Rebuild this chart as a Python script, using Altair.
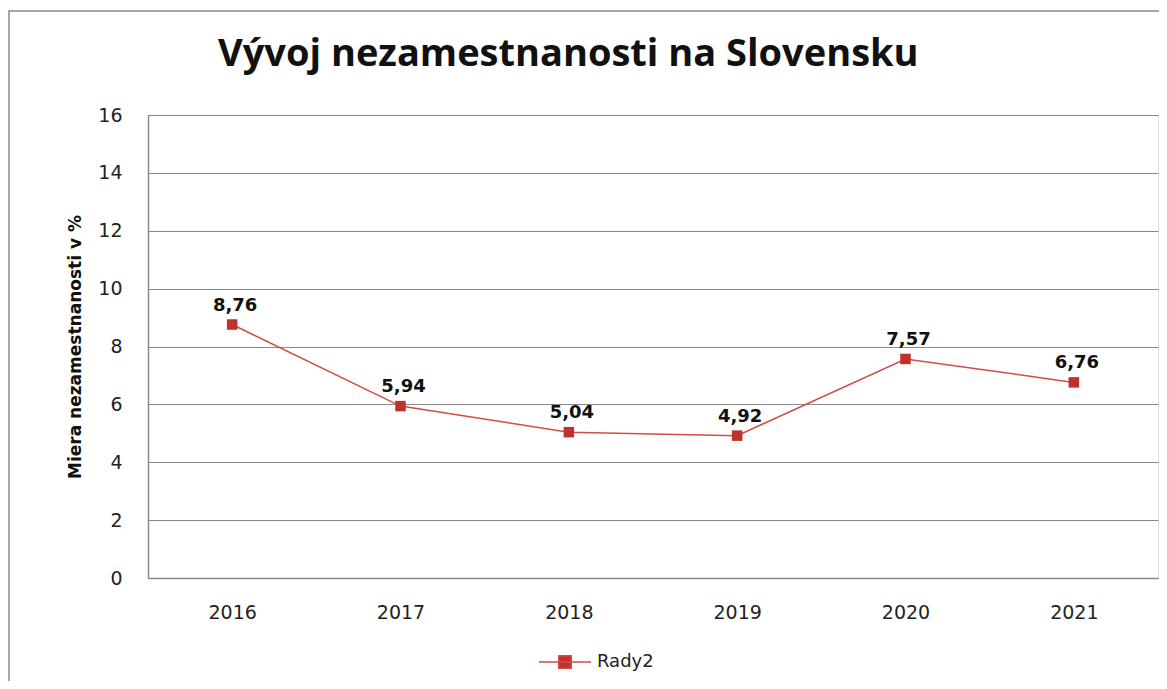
import altair as alt
import pandas as pd

# ---- data ----
years = ["2016", "2017", "2018", "2019", "2020", "2021"]
rates = [8.76, 5.94, 5.04, 4.92, 7.57, 6.76]
series_name = "Rady2"
y_ticks = [0, 2, 4, 6, 8, 10, 12, 14, 16]
title_text = "Vývoj nezamestnanosti na Slovensku"
y_title = "Miera nezamestnanosti v %"

df = pd.DataFrame({"rok": years, "miera": rates, "rad": [series_name] * len(years)})
frame_df = pd.DataFrame({"k": [0]})

RED_LINE = "#d24b48"
RED_PT = "#c0302c"
GRID = "#8a8a8a"
TXT = "#222222"

W, H = 1010, 463

base = alt.Chart(df).encode(
    x=alt.X(
        "rok:N",
        sort=years,
        scale=alt.Scale(type="point", padding=0.5),
        axis=alt.Axis(
            title=None, labelAngle=0, ticks=False, grid=False,
            domainColor=GRID, domainWidth=1.5, labelPadding=25,
            labelFont="DejaVu Sans", labelFontSize=19, labelColor=TXT,
        ),
    ),
    y=alt.Y(
        "miera:Q",
        scale=alt.Scale(domain=[0, 16], nice=False),
        axis=alt.Axis(
            values=y_ticks, ticks=False, grid=True, gridColor=GRID, gridWidth=1.2,
            domainColor=GRID, domainWidth=1.5, labelPadding=26,
            labelFont="DejaVu Sans", labelFontSize=19, labelColor=TXT,
            title=y_title, titleFont="DejaVu Sans", titleFontSize=17,
            titleFontWeight="bold", titleColor="#111111", titleAngle=-90,
            titleX=-73, titleY=H / 2, titleAlign="center",
            titleBaseline="middle",
        ),
    ),
)

frame = alt.Chart(frame_df).mark_rect(
    fillOpacity=0, stroke="#8a8a8a", strokeWidth=1.5, clip=False
).encode(
    x=alt.value(-139), x2=alt.value(W + 60),
    y=alt.value(-104), y2=alt.value(H + 200),
)

line = base.mark_line(color=RED_LINE, strokeWidth=1.5)

pts = base.mark_point(shape="square", filled=True, size=110, opacity=1).encode(
    color=alt.Color(
        "rad:N",
        scale=alt.Scale(range=[RED_PT]),
        legend=alt.Legend(
            title=None, orient="none", legendX=390, legendY=520, padding=0,
            symbolType="M-1,0H1M-0.24,-0.24H0.24V0.24H-0.24Z",
            symbolSize=2704, symbolStrokeColor=RED_LINE, symbolStrokeWidth=1.5,
            symbolFillColor=RED_PT,
            labelFont="DejaVu Sans", labelFontSize=18, labelColor=TXT,
            labelOffset=5,
        ),
    )
)

labels = base.transform_calculate(
    lab="replace(format(datum.miera, '.2f'), '.', ',')"
).mark_text(
    dx=3, dy=-14, baseline="alphabetic", font="DejaVu Sans",
    fontWeight="bold", fontSize=18, color="#111111",
).encode(text="lab:N")

chart = alt.layer(frame, line, pts, labels).properties(
    width=W,
    height=H,
    title=alt.TitleParams(
        title_text, anchor="start", frame="group", dx=70, offset=-94,
        baseline="alphabetic", font="Open Sans", fontSize=38,
        fontWeight="bold", color="#111111",
    ),
    autosize=alt.AutoSizeParams(type="none"),
    padding={"left": 140, "top": 107, "right": 1, "bottom": 103},
).configure_view(stroke=None).configure(background="white")

chart.save("out.html", embed_options={"renderer": "svg", "actions": False})
